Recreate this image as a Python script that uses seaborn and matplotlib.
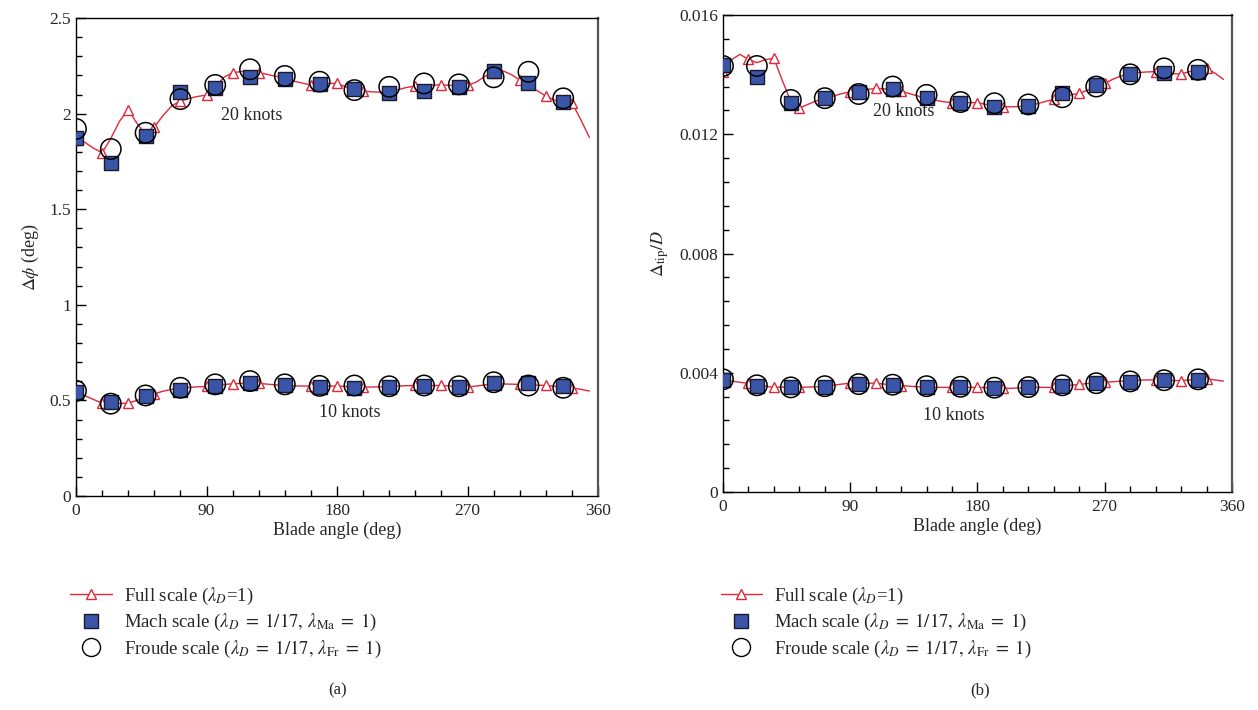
import numpy as np
import pandas as pd
import matplotlib
matplotlib.use("Agg")
import matplotlib.pyplot as plt
from matplotlib.lines import Line2D
from matplotlib.ticker import MultipleLocator, FuncFormatter
import seaborn as sns

# blade angles
line_deg = list(range(0, 360, 6))      # full scale line (markers every 18 deg)
model_deg = list(range(0, 360, 24))    # model scale points

# ---- (a) delta phi (deg) ----
full_10_a = [0.543, 0.525, 0.505, 0.486, 0.486, 0.484, 0.486, 0.500, 0.515, 0.535,
             0.548, 0.558, 0.565, 0.568, 0.571, 0.573, 0.578, 0.583, 0.587, 0.589,
             0.590, 0.589, 0.585, 0.581, 0.578, 0.576, 0.575, 0.575, 0.575, 0.575,
             0.575, 0.573, 0.571, 0.570, 0.570, 0.571, 0.573, 0.575, 0.577, 0.578,
             0.578, 0.578, 0.578, 0.575, 0.572, 0.570, 0.575, 0.581, 0.585, 0.586,
             0.585, 0.584, 0.582, 0.580, 0.578, 0.574, 0.570, 0.566, 0.558, 0.549]
full_20_a = [1.862, 1.850, 1.820, 1.795, 1.870, 1.960, 2.020, 1.950, 1.890, 1.930,
             1.990, 2.040, 2.067, 2.080, 2.090, 2.097, 2.140, 2.190, 2.214, 2.220,
             2.220, 2.214, 2.205, 2.195, 2.185, 2.170, 2.160, 2.150, 2.155, 2.158,
             2.158, 2.140, 2.125, 2.118, 2.114, 2.112, 2.115, 2.125, 2.137, 2.144,
             2.148, 2.150, 2.150, 2.148, 2.147, 2.148, 2.165, 2.195, 2.215, 2.225,
             2.205, 2.176, 2.150, 2.120, 2.092, 2.070, 2.060, 2.057, 1.970, 1.876]
mach_10_a = [0.545, 0.491, 0.521, 0.556, 0.573, 0.590, 0.578, 0.570, 0.566, 0.570,
             0.573, 0.570, 0.590, 0.590, 0.573]
mach_20_a = [1.870, 1.740, 1.883, 2.115, 2.132, 2.190, 2.179, 2.155, 2.127, 2.110,
             2.120, 2.137, 2.223, 2.158, 2.062]
froude_10_a = [0.550, 0.483, 0.526, 0.566, 0.584, 0.601, 0.584, 0.576, 0.578, 0.574,
               0.578, 0.574, 0.595, 0.578, 0.566]
froude_20_a = [1.920, 1.815, 1.900, 2.076, 2.150, 2.232, 2.197, 2.167, 2.123, 2.140,
               2.158, 2.153, 2.190, 2.219, 2.080]

# ---- (b) delta tip / D ----
full_10_b = [0.00376, 0.00372, 0.00368, 0.003646, 0.00360, 0.00355, 0.00351, 0.00352, 0.00352, 0.00351,
             0.00352, 0.00353, 0.00355, 0.00358, 0.00362, 0.00365, 0.00365, 0.00365, 0.00365, 0.00362,
             0.00360, 0.00357, 0.00355, 0.00353, 0.00352, 0.00351, 0.00351, 0.00351, 0.00351, 0.00351,
             0.00351, 0.00350, 0.00349, 0.00348, 0.00348, 0.00349, 0.00351, 0.00351, 0.00351, 0.00351,
             0.00354, 0.00358, 0.00361, 0.00364, 0.00366, 0.00368, 0.00370, 0.00372, 0.00374, 0.00375,
             0.00376, 0.003757, 0.00375, 0.00374, 0.00374, 0.00376, 0.00378, 0.00379, 0.00376, 0.00372]
full_20_b = [0.01410, 0.01450, 0.01468, 0.01451, 0.01440, 0.01450, 0.01455, 0.01380, 0.01310, 0.01287,
             0.01300, 0.01312, 0.01320, 0.01328, 0.01336, 0.01343, 0.01346, 0.01350, 0.01354, 0.01352,
             0.01350, 0.01345, 0.01336, 0.01328, 0.01320, 0.01314, 0.01309, 0.01306, 0.01306, 0.01306,
             0.01306, 0.01300, 0.01295, 0.01293, 0.01292, 0.01293, 0.01297, 0.01302, 0.01310, 0.01317,
             0.01326, 0.01332, 0.01337, 0.01348, 0.01360, 0.01371, 0.01385, 0.01396, 0.01403, 0.01407,
             0.01409, 0.01410, 0.01406, 0.01403, 0.01402, 0.01410, 0.01418, 0.01421, 0.01405, 0.01384]
mach_10_b = [0.00376, 0.003566, 0.00351, 0.00353, 0.00361, 0.00359, 0.00353, 0.00351, 0.00348, 0.00351,
             0.00357, 0.00365, 0.00370, 0.003757, 0.003757]
mach_20_b = [0.01432, 0.01393, 0.01306, 0.01321, 0.01343, 0.01351, 0.01321, 0.01306, 0.01293, 0.01295,
             0.01337, 0.01365, 0.01401, 0.01407, 0.01410]
froude_10_b = [0.00378, 0.00358, 0.00351, 0.00355, 0.00362, 0.00360, 0.00355, 0.00353, 0.00350, 0.00352,
               0.00358, 0.00365, 0.00371, 0.00375, 0.00378]
froude_20_b = [0.01429, 0.01429, 0.01315, 0.01321, 0.01335, 0.01360, 0.01332, 0.01308, 0.01304, 0.01300,
               0.01324, 0.01360, 0.01401, 0.01421, 0.01416]

RED = "#e0283a"
BLUE = "#3a55a8"

sns.set_theme(style="ticks")
plt.rcParams["font.family"] = ["Liberation Serif", "DejaVu Serif"]
plt.rcParams["mathtext.fontset"] = "stix"

fig = plt.figure(figsize=(12.58, 7.10), dpi=100)
ax_a = fig.add_axes([0.0604, 0.3014, 0.4150, 0.6732])
ax_b = fig.add_axes([0.5747, 0.3070, 0.4046, 0.6719])


def draw(ax, full_list, mach_list, froude_list):
    for full, mach, froude in zip(full_list, mach_list, froude_list):
        df_line = pd.DataFrame({"deg": line_deg, "val": full})
        sns.lineplot(data=df_line, x="deg", y="val", ax=ax, color=RED, lw=1.0,
                     marker="^", markevery=3, ms=7, mfc="white", mec=RED, mew=1.0)
        df_m = pd.DataFrame({"deg": model_deg, "mach": mach, "froude": froude})
        sns.scatterplot(data=df_m, x="deg", y="mach", ax=ax, marker="s", s=105,
                        color=BLUE, edgecolor="#1a1a2a", linewidth=1.0, zorder=3)
        sns.scatterplot(data=df_m, x="deg", y="froude", ax=ax, marker="o", s=215,
                        facecolor="none", edgecolor="black", linewidth=1.1, zorder=4)


draw(ax_a, [full_10_a, full_20_a], [mach_10_a, mach_20_a], [froude_10_a, froude_20_a])
draw(ax_b, [full_10_b, full_20_b], [mach_10_b, mach_20_b], [froude_10_b, froude_20_b])

fmt = FuncFormatter(lambda v, p: "0" if v == 0 else f"{v:g}")
for ax in (ax_a, ax_b):
    ax.set_xlim(0, 360)
    ax.xaxis.set_major_locator(MultipleLocator(90))
    ax.xaxis.set_minor_locator(MultipleLocator(18))
    ax.tick_params(which="both", direction="in", top=False, right=False, labelsize=12.5,
                   color="black", width=1.0)
    ax.tick_params(which="major", length=7)
    ax.tick_params(which="minor", length=4)
    ax.tick_params(axis="x", pad=5)
    ax.set_xlabel("Blade angle (deg)", fontsize=13, labelpad=2)
    for sp in ax.spines.values():
        sp.set_visible(True)
        sp.set_color("black")
        sp.set_linewidth(1.0)
    ax.spines["right"].set_linewidth(1.6)
    ax.spines["right"].set_color("#555555")

ax_a.set_ylim(0, 2.5)
ax_a.yaxis.set_major_locator(MultipleLocator(0.5))
ax_a.yaxis.set_minor_locator(MultipleLocator(0.1))
ax_a.yaxis.set_major_formatter(fmt)
ax_a.set_ylabel(r"$\Delta\phi$ (deg)", fontsize=13, labelpad=6)
ax_a.text(121, 1.99, "20 knots", fontsize=13, ha="center", va="center")
ax_a.text(189, 0.437, "10 knots", fontsize=13, ha="center", va="center")

ax_b.set_ylim(0, 0.016)
ax_b.yaxis.set_major_locator(MultipleLocator(0.004))
ax_b.yaxis.set_minor_locator(MultipleLocator(0.0008))
ax_b.yaxis.set_major_formatter(fmt)
ax_b.set_ylabel(r"$\Delta_{\rm tip}/D$", fontsize=13, labelpad=6)
ax_b.text(128, 0.01275, "20 knots", fontsize=13, ha="center", va="center")
ax_b.text(163, 0.00258, "10 knots", fontsize=13, ha="center", va="center")

labels = [r"Full scale ($\lambda_D$=1)",
          r"Mach scale ($\lambda_D\;=\;1/17,\,\lambda_{\rm Ma}\;=\;1$)",
          r"Froude scale ($\lambda_D\;=\;1/17,\,\lambda_{\rm Fr}\;=\;1$)"]
handles = [Line2D([], [], color=RED, lw=1.0, marker="^", ms=7, mfc="white", mec=RED),
           Line2D([], [], ls="none", marker="s", ms=10, mfc=BLUE, mec="#1a1a2a"),
           Line2D([], [], ls="none", marker="o", ms=13, mfc="none", mec="black")]
for x0 in (0.050, 0.567):
    fig.legend(handles, labels, loc="upper left", bbox_to_anchor=(x0, 0.186),
               bbox_transform=fig.transFigure, frameon=False, fontsize=13.5,
               handlelength=2.2, handletextpad=0.65, labelspacing=0.3, borderaxespad=0)

fig.text(338 / 1258, 1 - 690 / 710, "(a)", fontsize=12, ha="center", va="center")
fig.text(980 / 1258, 1 - 690 / 710, "(b)", fontsize=12, ha="center", va="center")

fig.savefig("out.png", dpi=100)
